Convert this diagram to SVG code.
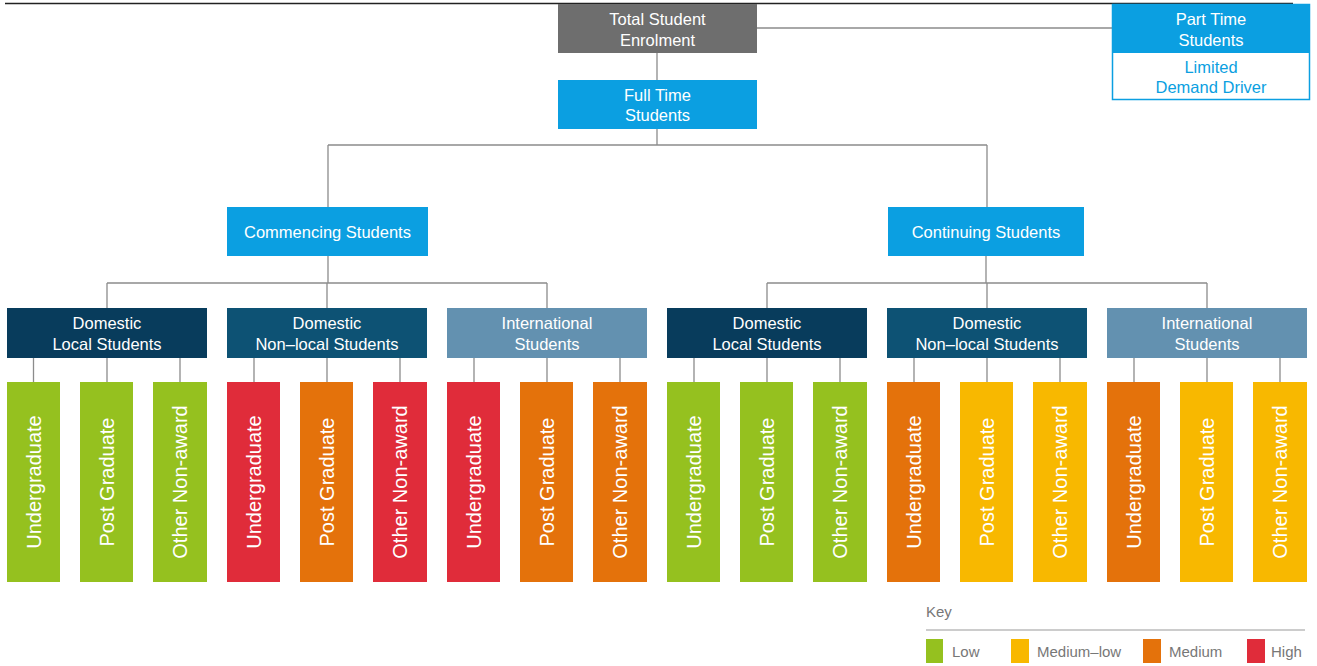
<svg xmlns="http://www.w3.org/2000/svg" width="1317" height="666" viewBox="0 0 1317 666">
<style>
text{font-family:"Liberation Sans",Arial,sans-serif;}
.t{fill:#fff;font-size:16.5px;text-anchor:middle;}
.lf{fill:#fff;font-size:20px;text-anchor:middle;}
.c{stroke:#8c8c8c;stroke-width:1.3;fill:none;}
.grey{fill:#6e6e6e;}
.blue{fill:#0b9fe1;}
.dl{fill:#083c5c;}
.dn{fill:#0d5274;}
.in{fill:#6391b0;}
.g{fill:#95c11f;}
.y{fill:#f8b800;}
.o{fill:#e4720b;}
.r{fill:#e02c3a;}
.k{fill:#777;font-size:15px;}
</style>
<line x1="5" y1="3.5" x2="1293" y2="3.5" stroke="#222" stroke-width="1.5"/>
<g id="connectors" class="c">
<path d="M657 53V80M757 28H1112M657 129V145M328 145H987M328 145V207M987 145V207"/>
<path d="M328 256V283M107 283H547M107 283V308M327 283V308M547 283V308"/>
<path d="M986 256V283M767 283H1207M767 283V308M987 283V308M1207 283V308"/>
<path d="M33.5 358V382M107 358V382M180 358V382M254 358V382M327 358V382M400 358V382M474 358V382M547 358V382M620 358V382M694 358V382M767 358V382M840 358V382M914 358V382M987 358V382M1060 358V382M1134 358V382M1207 358V382M1280 358V382"/>
</g>
<g id="total"><rect class="grey" x="558" y="4" width="199" height="49"/><text class="t" x="657.5" y="25">Total Student</text><text class="t" x="657.5" y="46">Enrolment</text></g>
<g id="parttime"><rect x="1112.5" y="4.5" width="197" height="95" fill="#fff" stroke="#0b9fe1" stroke-width="1.5"/><rect class="blue" x="1112" y="4" width="198" height="49"/><text class="t" x="1211" y="25">Part Time</text><text class="t" x="1211" y="45.5">Students</text><text class="t" x="1211" y="73" style="fill:#0b9fe1">Limited</text><text class="t" x="1211" y="93" style="fill:#0b9fe1">Demand Driver</text></g>
<g id="fulltime"><rect class="blue" x="558" y="80" width="199" height="49"/><text class="t" x="657.5" y="100.5">Full Time</text><text class="t" x="657.5" y="121">Students</text></g>
<g id="commencing"><rect class="blue" x="227" y="207" width="201" height="49"/><text class="t" x="327.5" y="237.5">Commencing Students</text></g>
<g id="continuing"><rect class="blue" x="888" y="207" width="196" height="49"/><text class="t" x="986" y="237.5">Continuing Students</text></g>
<g id="c-dom-local"><rect class="dl" x="7" y="308" width="200" height="50"/><text class="t" x="107" y="329">Domestic</text><text class="t" x="107" y="350">Local Students</text></g>
<g id="c-dom-nonlocal"><rect class="dn" x="227" y="308" width="200" height="50"/><text class="t" x="327" y="329">Domestic</text><text class="t" x="327" y="350">Non–local Students</text></g>
<g id="c-intl"><rect class="in" x="447" y="308" width="200" height="50"/><text class="t" x="547" y="329">International</text><text class="t" x="547" y="350">Students</text></g>
<g id="t-dom-local"><rect class="dl" x="667" y="308" width="200" height="50"/><text class="t" x="767" y="329">Domestic</text><text class="t" x="767" y="350">Local Students</text></g>
<g id="t-dom-nonlocal"><rect class="dn" x="887" y="308" width="200" height="50"/><text class="t" x="987" y="329">Domestic</text><text class="t" x="987" y="350">Non–local Students</text></g>
<g id="t-intl"><rect class="in" x="1107" y="308" width="200" height="50"/><text class="t" x="1207" y="329">International</text><text class="t" x="1207" y="350">Students</text></g>
<g id="c-dl-ug"><rect class="g" x="7" y="382" width="53" height="200"/><text class="lf" transform="translate(41 482) rotate(-90)">Undergraduate</text></g>
<g id="c-dl-pg"><rect class="g" x="80" y="382" width="53" height="200"/><text class="lf" transform="translate(114 482) rotate(-90)">Post Graduate</text></g>
<g id="c-dl-ot"><rect class="g" x="153" y="382" width="54" height="200"/><text class="lf" transform="translate(187 482) rotate(-90)">Other Non-award</text></g>
<g id="c-dn-ug"><rect class="r" x="227" y="382" width="53" height="200"/><text class="lf" transform="translate(261 482) rotate(-90)">Undergraduate</text></g>
<g id="c-dn-pg"><rect class="o" x="300" y="382" width="53" height="200"/><text class="lf" transform="translate(334 482) rotate(-90)">Post Graduate</text></g>
<g id="c-dn-ot"><rect class="r" x="373" y="382" width="54" height="200"/><text class="lf" transform="translate(407 482) rotate(-90)">Other Non-award</text></g>
<g id="c-in-ug"><rect class="r" x="447" y="382" width="53" height="200"/><text class="lf" transform="translate(481 482) rotate(-90)">Undergraduate</text></g>
<g id="c-in-pg"><rect class="o" x="520" y="382" width="53" height="200"/><text class="lf" transform="translate(554 482) rotate(-90)">Post Graduate</text></g>
<g id="c-in-ot"><rect class="o" x="593" y="382" width="54" height="200"/><text class="lf" transform="translate(627 482) rotate(-90)">Other Non-award</text></g>
<g id="t-dl-ug"><rect class="g" x="667" y="382" width="53" height="200"/><text class="lf" transform="translate(701 482) rotate(-90)">Undergraduate</text></g>
<g id="t-dl-pg"><rect class="g" x="740" y="382" width="53" height="200"/><text class="lf" transform="translate(774 482) rotate(-90)">Post Graduate</text></g>
<g id="t-dl-ot"><rect class="g" x="813" y="382" width="54" height="200"/><text class="lf" transform="translate(847 482) rotate(-90)">Other Non-award</text></g>
<g id="t-dn-ug"><rect class="o" x="887" y="382" width="53" height="200"/><text class="lf" transform="translate(921 482) rotate(-90)">Undergraduate</text></g>
<g id="t-dn-pg"><rect class="y" x="960" y="382" width="53" height="200"/><text class="lf" transform="translate(994 482) rotate(-90)">Post Graduate</text></g>
<g id="t-dn-ot"><rect class="y" x="1033" y="382" width="54" height="200"/><text class="lf" transform="translate(1067 482) rotate(-90)">Other Non-award</text></g>
<g id="t-in-ug"><rect class="o" x="1107" y="382" width="53" height="200"/><text class="lf" transform="translate(1141 482) rotate(-90)">Undergraduate</text></g>
<g id="t-in-pg"><rect class="y" x="1180" y="382" width="53" height="200"/><text class="lf" transform="translate(1214 482) rotate(-90)">Post Graduate</text></g>
<g id="t-in-ot"><rect class="y" x="1253" y="382" width="54" height="200"/><text class="lf" transform="translate(1287 482) rotate(-90)">Other Non-award</text></g>
<g id="key">
<text class="k" x="926" y="617">Key</text>
<line x1="926" y1="630" x2="1305" y2="630" stroke="#999" stroke-width="1.2"/>
<rect class="g" x="926" y="639" width="17" height="24"/><text class="k" x="952" y="657">Low</text>
<rect class="y" x="1011" y="639" width="18" height="24"/><text class="k" x="1037" y="657">Medium–low</text>
<rect class="o" x="1143" y="639" width="18" height="24"/><text class="k" x="1169" y="657">Medium</text>
<rect class="r" x="1247" y="639" width="18" height="24"/><text class="k" x="1271" y="657">High</text>
</g>
</svg>
